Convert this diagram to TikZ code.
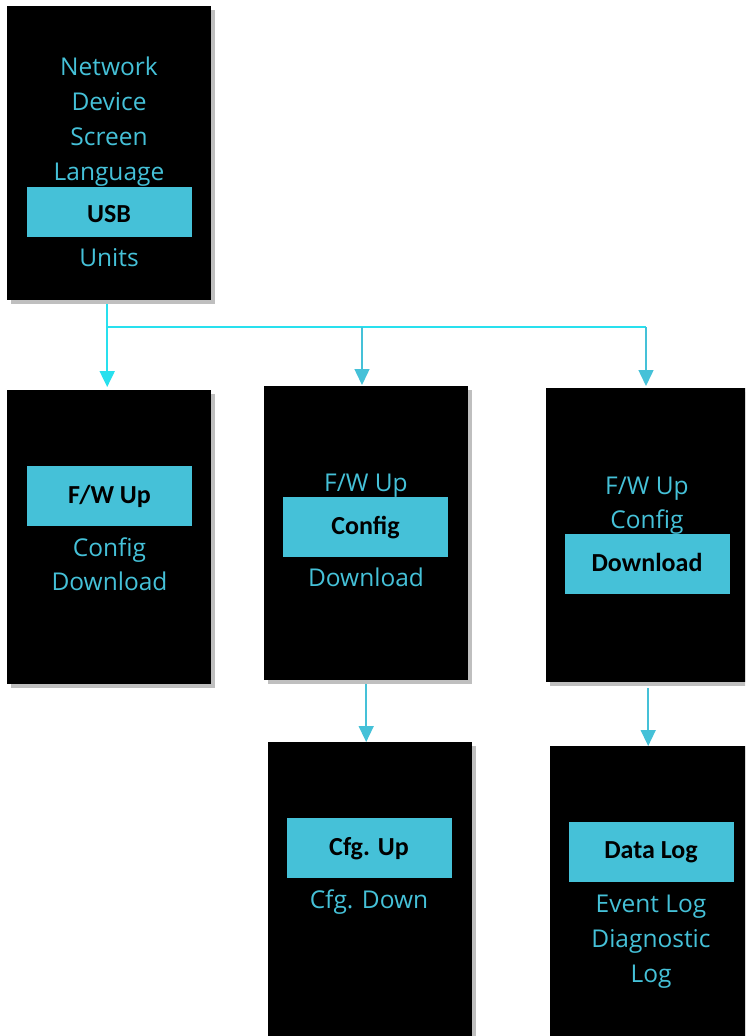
\documentclass[tikz,border=0pt]{standalone}
\usepackage{fontspec}
\setmainfont{Open Sans}
\newfontfamily\barfont{Carlito}
\usetikzlibrary{shadows,arrows.meta}

\definecolor{menucyan}{HTML}{45C1D8}
\definecolor{linkcyan}{HTML}{28E0EE}
\definecolor{shadowgrey}{HTML}{BFBFBF}

\tikzset{
  screen/.style={fill=black, draw=none, minimum width=204pt, minimum height=294pt,
    anchor=north west, inner sep=0pt,
    drop shadow={fill=shadowgrey, opacity=1, shadow xshift=3.5pt, shadow yshift=-4pt}},
  item/.style={text=menucyan, anchor=base, inner sep=0pt,
    font=\fontsize{24.5}{24.5}\selectfont},
  selbar/.style={fill=menucyan, text=black, minimum width=165pt, minimum height=60pt,
    inner sep=0pt, text height=14pt, text depth=0pt,
    font=\barfont\bfseries\fontsize{26}{26}\selectfont},
  mainlink/.style={draw=linkcyan, line width=2pt},
  sublink/.style={draw=menucyan, line width=1.5pt},
  tipmain/.style={-{Triangle[width=15pt,length=16pt]}},
}

\begin{document}
\begin{tikzpicture}[x=1pt,y=-1pt]
  \path[use as bounding box, clip] (0,0) rectangle (745,1036);
  \fill[white] (0,0) rectangle (745,1036);

  % menu screens
  \node[screen] (A)  at (7,6)     {};
  \node[screen] (B1) at (7,390)   {};
  \node[screen] (B2) at (264,386) {};
  \node[screen] (B3) at (546,388) {};
  \node[screen] (C2) at (268,742) {};
  \node[screen] (C3) at (550,746) {};

  % settings menu
  \node[item] (aNet)  at (109,75)  {Network};
  \node[item] (aDev)  at (109,110) {Device};
  \node[item] (aScr)  at (109,145) {Screen};
  \node[item] (aLang) at (109,180) {Language};
  \node[selbar, minimum height=50pt, text height=20pt] (aUsb) at (109,212) {USB};
  \node[item] (aUnit) at (109,266) {Units};

  % USB menu, F/W Up selected
  \node[selbar] (b1Fw) at (109.5,496) {F/W Up};
  \node[item] (b1Cfg) at (109.5,556) {Config};
  \node[item] (b1Dl)  at (109.5,590) {Download};

  % USB menu, Config selected
  \node[item] (b2Fw)  at (366,491) {F/W Up};
  \node[selbar] (b2Cfg) at (365.5,527) {Config};
  \node[item] (b2Dl)  at (366,586) {Download};

  % USB menu, Download selected
  \node[item] (b3Fw)  at (647,494) {F/W Up};
  \node[item] (b3Cfg) at (647,528) {Config};
  \node[selbar] (b3Dl) at (647,564) {Download};

  % config submenu
  \node[selbar] (c2Up) at (369,848) {Cfg. Up};
  \node[item] (c2Dn)  at (369,908) {Cfg. Down};

  % download submenu
  \node[selbar] (c3Data) at (651,851.5) {Data Log};
  \node[item] (c3Ev)   at (651,912) {Event Log};
  \node[item] (c3Diag) at (651,947) {Diagnostic};
  \node[item] (c3Log)  at (651,982) {Log};

  % bus from the settings screen
  \coordinate (busL) at (107,327);
  \coordinate (busM) at (362,327);
  \coordinate (busR) at (646,327);

  \draw[mainlink, shorten <=4pt, shorten >=3pt, tipmain]
    ([xshift=-2pt]A.south) -- ([xshift=-2pt]A.south |- B1.north);
  \draw[mainlink] (busL) -- (busR);
  \draw[sublink, shorten >=1pt, -{Triangle[width=15pt,length=16pt]}]
    (busM) -- (busM |- B2.north);
  \draw[sublink, shorten >=2pt, -{Triangle[width=15pt,length=16pt]}]
    (busR) -- (busR |- B3.north);

  % submenu links
  \draw[sublink, shorten <=4pt, -{Triangle[width=15pt,length=16pt]}]
    (B2.south) -- (B2.south |- C2.north);
  \draw[sublink, shorten <=6pt, -{Triangle[width=15pt,length=16pt]}]
    (B3.south) -- (B3.south |- C3.north);
\end{tikzpicture}
\end{document}
